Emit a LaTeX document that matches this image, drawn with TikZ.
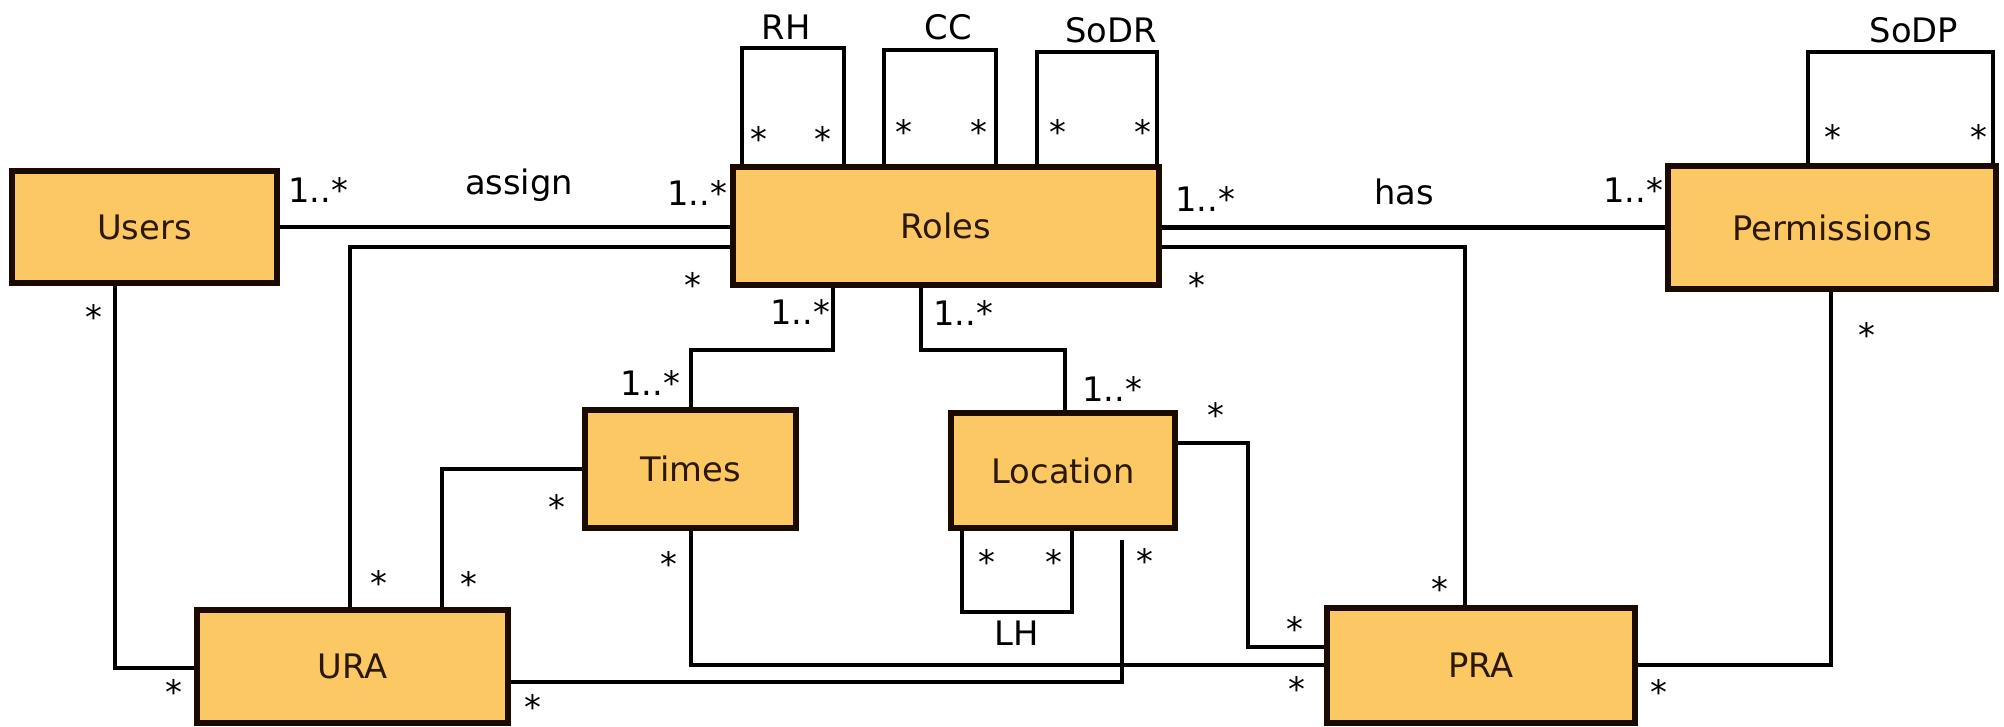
\documentclass[tikz,border=0pt]{standalone}
\usepackage{fontspec}
\setmainfont{DejaVu Sans}
\definecolor{rbacfill}{HTML}{FCC863}
\definecolor{rbacedge}{HTML}{1A0A00}
\definecolor{rbactext}{HTML}{2A1800}

\begin{document}
\begin{tikzpicture}[
  x=0.1mm, y=-0.1mm,
  font=\fontsize{9.6}{11}\selectfont,
  box/.style={draw=rbacedge, fill=rbacfill, line width=0.55mm, inner sep=0pt, text=rbactext},
  link/.style={line width=0.45mm},
  mult/.style={inner sep=0pt},
]
\useasboundingbox (0,0) rectangle (2004,727);

% classes
\node[box, minimum width=26.5mm, minimum height=11.2mm] (users) at (144.5,227) {Users};
\node[box, minimum width=42.6mm, minimum height=11.8mm] (roles) at (946,226) {Roles};
\node[box, minimum width=32.8mm, minimum height=12.3mm] (perms) at (1832,227.5) {Permissions};
\node[box, minimum width=21.1mm, minimum height=11.8mm] (times) at (690.5,469) {Times};
\node[box, minimum width=22.4mm, minimum height=11.5mm] (loc) at (1063,470.5) {Location};
\node[box, minimum width=31.1mm, minimum height=11.3mm] (ura) at (352.5,666.5) {URA};
\node[box, minimum width=30.8mm, minimum height=11.5mm] (pra) at (1481,665.5) {PRA};

% associations
\draw[link] (users.east) -- (users.east -| roles.west);
\draw[link] (roles.east |- perms.west) -- (perms.west);
\draw[link] (ura.north -| 350,0) |- (roles.west |- 0,247);
\draw[link] (users.south -| 115,0) |- (ura.west |- 0,668);
\draw[link] (ura.north -| 442,0) |- (times.west);
\draw[link] (roles.south -| 833,0) |- (691,350) -- (times.north -| 691,0);
\draw[link] (roles.south -| 921,0) |- (1065,350) -- (loc.north -| 1065,0);
\draw[link] (loc.east |- 0,443) -| (1248,647) -- (pra.west |- 0,647);
\draw[link] (times.south -| 691,0) |- (pra.west |- 0,665);
\draw[link] (ura.east |- 0,682) -| ([yshift=-0.9mm]loc.south -| 1122,0);
\draw[link] (pra.north -| 1465,0) |- (roles.east |- 0,247);
\draw[link] (pra.east |- 0,665) -| (perms.south -| 1831,0);

% self associations
\draw[link] (roles.north -| 742,0) |- (844,48) -- (roles.north -| 844,0);
\draw[link] (roles.north -| 884,0) |- (996,50) -- (roles.north -| 996,0);
\draw[link] (roles.north -| 1037,0) |- (1157,52) -- (roles.north -| 1157,0);
\draw[link] (perms.north -| 1808,0) |- (1993,52) -- (perms.north -| 1993,0);
\draw[link] (loc.south -| 962,0) |- (1072,612) -- (loc.south -| 1072,0);

% association names
\node[mult] (assign) at (519,185) {assign};
\node[mult] (has) at (1404,192) {has};
\node[mult] (rh) at (786,27) {RH};
\node[mult] (cc) at (948,27) {CC};
\node[mult] (sodr) at (1111,30) {SoDR};
\node[mult] (sodp) at (1914,30) {SoDP};
\node[mult] (lh) at (1017,633) {LH};

% multiplicities
\node[mult] (m1) at (318,190) {1..*};
\node[mult] (m2) at (697,193) {1..*};
\node[mult] (m3) at (1205,199) {1..*};
\node[mult] (m4) at (1633,190) {1..*};
\node[mult] (m5) at (800,312) {1..*};
\node[mult] (m6) at (963,313) {1..*};
\node[mult] (m7) at (650,383) {1..*};
\node[mult] (m8) at (1112,389) {1..*};
\foreach \x/\y in {94/317, 174/692, 693/285, 379/583, 469/584, 557/507,
    1216/415, 1295/629, 987/562, 1054/562, 1145/561, 533/707,
    669/564, 1297/689, 1197/285, 1440/589, 1659/692, 1867/335,
    759/139, 823/139, 904/132, 979/132, 1058/132, 1143/132, 1833/137, 1979/137}
  \node[mult] at (\x,\y) {*};
\end{tikzpicture}
\end{document}
